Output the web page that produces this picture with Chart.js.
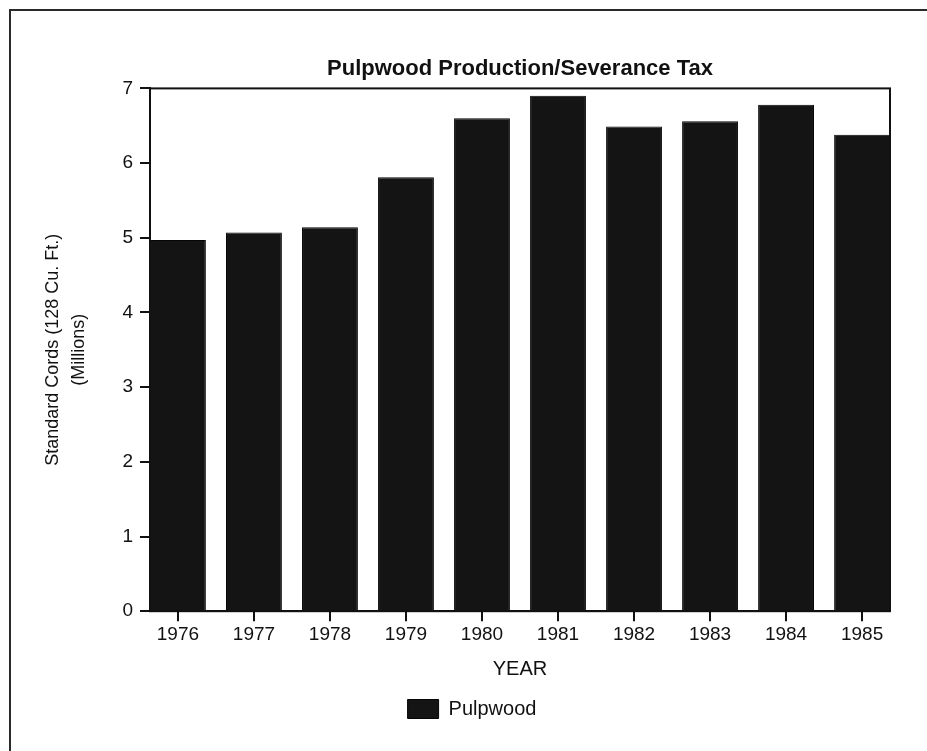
<!DOCTYPE html>
<html>
<head>
<meta charset="utf-8">
<script src="https://cdn.jsdelivr.net/npm/chart.js@4/dist/chart.umd.min.js"></script>
<style>
html, body { margin: 0; padding: 0; background: #fff; overflow: hidden; }
#wrap { position: relative; width: 927px; height: 751px; overflow: hidden; }
#frame { position: absolute; left: 9px; top: 9px; width: 1000px; height: 1000px;
         border-left: 2px solid #2a2a2a; border-top: 2px solid #2a2a2a; }
#c { position: absolute; left: 0; top: 0; }
</style>
</head>
<body>
<div id="wrap">
  <div id="frame"></div>
  <canvas id="c" width="944" height="751"></canvas>
</div>
<script>
// ---- data ----
const years = ['1976', '1977', '1978', '1979', '1980', '1981', '1982', '1983', '1984', '1985'];
const pulpwood = [4.97, 5.07, 5.14, 5.81, 6.60, 6.90, 6.49, 6.56, 6.78, 6.38];
const yTickValues = [0, 1, 2, 3, 4, 5, 6, 7];
const chartTitle = 'Pulpwood Production/Severance Tax';
const yTitle = ['Standard Cords (128 Cu. Ft.)', '(Millions)'];
const xTitle = 'YEAR';
const seriesName = 'Pulpwood';

// ---- style ----
const FONT = "'Liberation Sans', Arial, Helvetica, sans-serif";
const INK = '#111111';
const BAR_FILL = '#141414';
const BAR_FRAC = 0.735;

Chart.defaults.font.family = FONT;
Chart.defaults.color = INK;

const plotBox = {
  id: 'plotBox',
  afterDraw(chart) {
    const a = chart.chartArea, ctx = chart.ctx;
    ctx.save();
    ctx.strokeStyle = INK;
    ctx.lineWidth = 2;
    ctx.strokeRect(a.left, a.top, a.right - a.left, a.bottom - a.top);
    ctx.restore();
  }
};

new Chart(document.getElementById('c'), {
  type: 'bar',
  data: {
    datasets: [{
      label: seriesName,
      data: pulpwood.map((v, i) => ({ x: i, y: v })),
      backgroundColor: BAR_FILL,
      borderColor: '#050505',
      borderWidth: 1,
      barPercentage: BAR_FRAC,
      categoryPercentage: 1,
      yAxisID: 'y'
    }]
  },
  options: {
    responsive: false,
    devicePixelRatio: 1,
    animation: false,
    layout: { padding: { left: 0, right: 0, top: 0, bottom: 22 } },
    plugins: {
      title: {
        display: true,
        text: chartTitle,
        fullSize: false,
        color: INK,
        font: { size: 22, weight: 'bold', family: FONT },
        padding: { top: 56, bottom: 6 }
      },
      legend: {
        display: true,
        position: 'bottom',
        labels: {
          color: INK,
          font: { size: 20, family: FONT },
          boxWidth: 31,
          boxHeight: 19,
          padding: 18
        }
      },
      tooltip: { enabled: false }
    },
    scales: {
      x: {
        type: 'linear',
        bounds: 'data',
        offset: false,
        min: -BAR_FRAC / 2,
        max: years.length - 1 + BAR_FRAC / 2,
        afterBuildTicks: (axis) => { axis.ticks = years.map((y, i) => ({ value: i })); },
        ticks: {
          autoSkip: false,
          maxRotation: 0,
          padding: 2,
          color: INK,
          font: { size: 19, family: FONT },
          callback: (v, i) => years[i]
        },
        grid: { display: true, drawOnChartArea: false, drawTicks: true, tickLength: 10, color: INK, lineWidth: 2, offset: false },
        border: { display: true, color: INK, width: 2 },
        title: { display: true, text: xTitle, color: INK, font: { size: 20, family: FONT }, padding: { top: 9, bottom: 0 } }
      },
      y: {
        position: 'left',
        min: 0,
        max: 7,
        afterBuildTicks: (axis) => { axis.ticks = yTickValues.map(v => ({ value: v })); },
        afterFit: (s) => { s.width = 150; },
        ticks: { padding: 7, color: INK, font: { size: 19, family: FONT } },
        grid: { display: true, drawOnChartArea: false, drawTicks: true, tickLength: 10, color: INK, lineWidth: 2 },
        border: { display: true, color: INK, width: 2 },
        title: { display: true, text: yTitle, color: INK, font: { size: 18, family: FONT, lineHeight: 1.45 }, padding: { top: 40, bottom: 0 } }
      },
      yRight: {
        position: 'right',
        min: 0,
        max: 7,
        afterFit: (s) => { s.width = 54; },
        ticks: { display: false },
        grid: { display: false, drawTicks: false },
        border: { display: false }
      }
    }
  },
  plugins: [plotBox]
});
</script>
</body>
</html>
